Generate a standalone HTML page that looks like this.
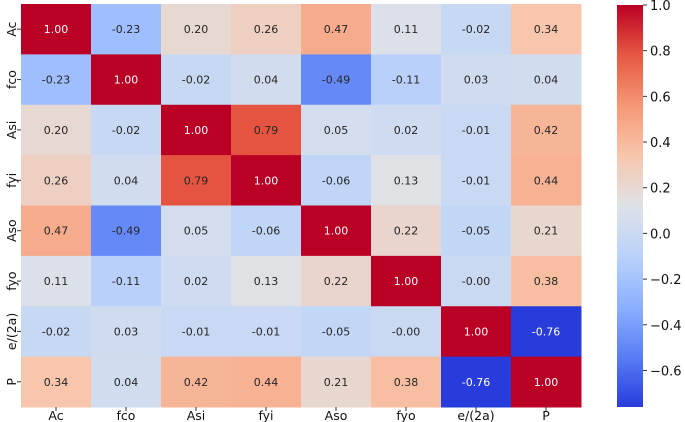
<!DOCTYPE html>
<html><head><meta charset="utf-8"><style>
body{margin:0;background:#fff;}
svg{display:block;font-family:"DejaVu Sans","Liberation Sans",sans-serif;}
</style></head><body>
<svg id="c" width="685" height="422"></svg>
<script>
const labels=["Ac","fco","Asi","fyi","Aso","fyo","e/(2a)","P"];
const row0=[1.00,-0.23,0.20,0.26,0.47,0.11,-0.02,0.34];
const row1=[-0.23,1.00,-0.02,0.04,-0.49,-0.11,0.03,0.04];
const row2=[0.20,-0.02,1.00,0.79,0.05,0.02,-0.01,0.42];
const row3=[0.26,0.04,0.79,1.00,-0.06,0.13,-0.01,0.44];
const row4=[0.47,-0.49,0.05,-0.06,1.00,0.22,-0.05,0.21];
const row5=[0.11,-0.11,0.02,0.13,0.22,1.00,-0.00,0.38];
const row6=[-0.02,0.03,-0.01,-0.01,-0.05,-0.00,1.00,-0.76];
const row7=[0.34,0.04,0.42,0.44,0.21,0.38,-0.76,1.00];
const matrix=[row0,row1,row2,row3,row4,row5,row6,row7];
const cbTicks=[1.0,0.8,0.6,0.4,0.2,0.0,-0.2,-0.4,-0.6];
const vmin=-0.76,vmax=1.0;

const NS="http://www.w3.org/2000/svg";
const svg=document.getElementById('c');
const L=21,R=581,T=4,B=407;
const cw=(R-L)/labels.length,rh=(B-T)/labels.length;
const stops=[[40,60,220],[90,125,245],[140,176,255],[186,210,250],[222,226,232],[247,198,172],[246,152,118],[230,88,66],[186,0,36]];
function cmap(v){let t=(v-vmin)/(vmax-vmin);t=Math.max(0,Math.min(1,t));const p=t*8,i=Math.min(7,Math.floor(p)),f=p-i;
const a=stops[i],b=stops[i+1];return [0,1,2].map(k=>Math.round(a[k]+(b[k]-a[k])*f));}
function rgb(c){return `rgb(${c[0]},${c[1]},${c[2]})`;}
function mk(tag,at,parent){const e=document.createElementNS(NS,tag);for(const k in at)e.setAttribute(k,at[k]);(parent||svg).appendChild(e);return e;}
function xS(i){return L+i*cw;}
function yS(j){return T+j*rh;}
for(let r=0;r<matrix.length;r++){for(let c=0;c<matrix[r].length;c++){
 const v=matrix[r][c],col=cmap(v);
 const rect=mk('rect',{x:xS(c),y:yS(r),width:cw+0.5,height:rh+0.5,fill:rgb(col)});
 
 
 const lum=(0.299*col[0]+0.587*col[1]+0.114*col[2]);
 const t=mk('text',{x:xS(c)+cw/2,y:yS(r)+rh/2+4,'text-anchor':'middle','font-size':'11',fill:lum<120?'#fff':'#262626'});
 t.textContent=(v===0?"-0.00":v.toFixed(2));
 
 
}}
labels.forEach((lb,i)=>{
 mk('line',{x1:xS(i)+cw/2,x2:xS(i)+cw/2,y1:B,y2:B+4,stroke:'#333'});
 const t=mk('text',{x:xS(i)+cw/2,y:B+13,'text-anchor':'middle','font-size':'12.5',fill:'#111'});
 t.textContent=lb;
 
 
 mk('line',{x1:L-4,x2:L,y1:yS(i)+rh/2,y2:yS(i)+rh/2,stroke:'#333'});
 const cy=yS(i)+rh/2,cx=12;
 const u=mk('text',{x:cx,y:cy,'text-anchor':'middle','font-size':'12.5',fill:'#111',transform:`rotate(-90 ${cx} ${cy})`,dy:'4'});
 u.textContent=lb;
 
 
});
const CL=617,CW=26,CT=5,CB=407;
const defs=mk('defs',{});
const g=mk('linearGradient',{id:'cg',x1:0,y1:1,x2:0,y2:0},defs);
for(let k=0;k<=16;k++){mk('stop',{offset:k/16,'stop-color':rgb(cmap(vmin+(vmax-vmin)*k/16))},g);}
const cb=mk('rect',{x:CL,y:CT,width:CW,height:CB-CT,fill:'url(#cg)'});


function cy(v){return CB-(v-vmin)/(vmax-vmin)*(CB-CT);}
cbTicks.forEach(v=>{
 const y=cy(v);
 mk('line',{x1:CL+CW,x2:CL+CW+4,y1:y,y2:y,stroke:'#333'});
 const t=mk('text',{x:CL+CW+7,y:y+5,'font-size':'13',fill:'#111'});
 t.textContent=(v<0?'\u2212':'')+Math.abs(v).toFixed(1);
 
 
});
</script>
</body></html>
